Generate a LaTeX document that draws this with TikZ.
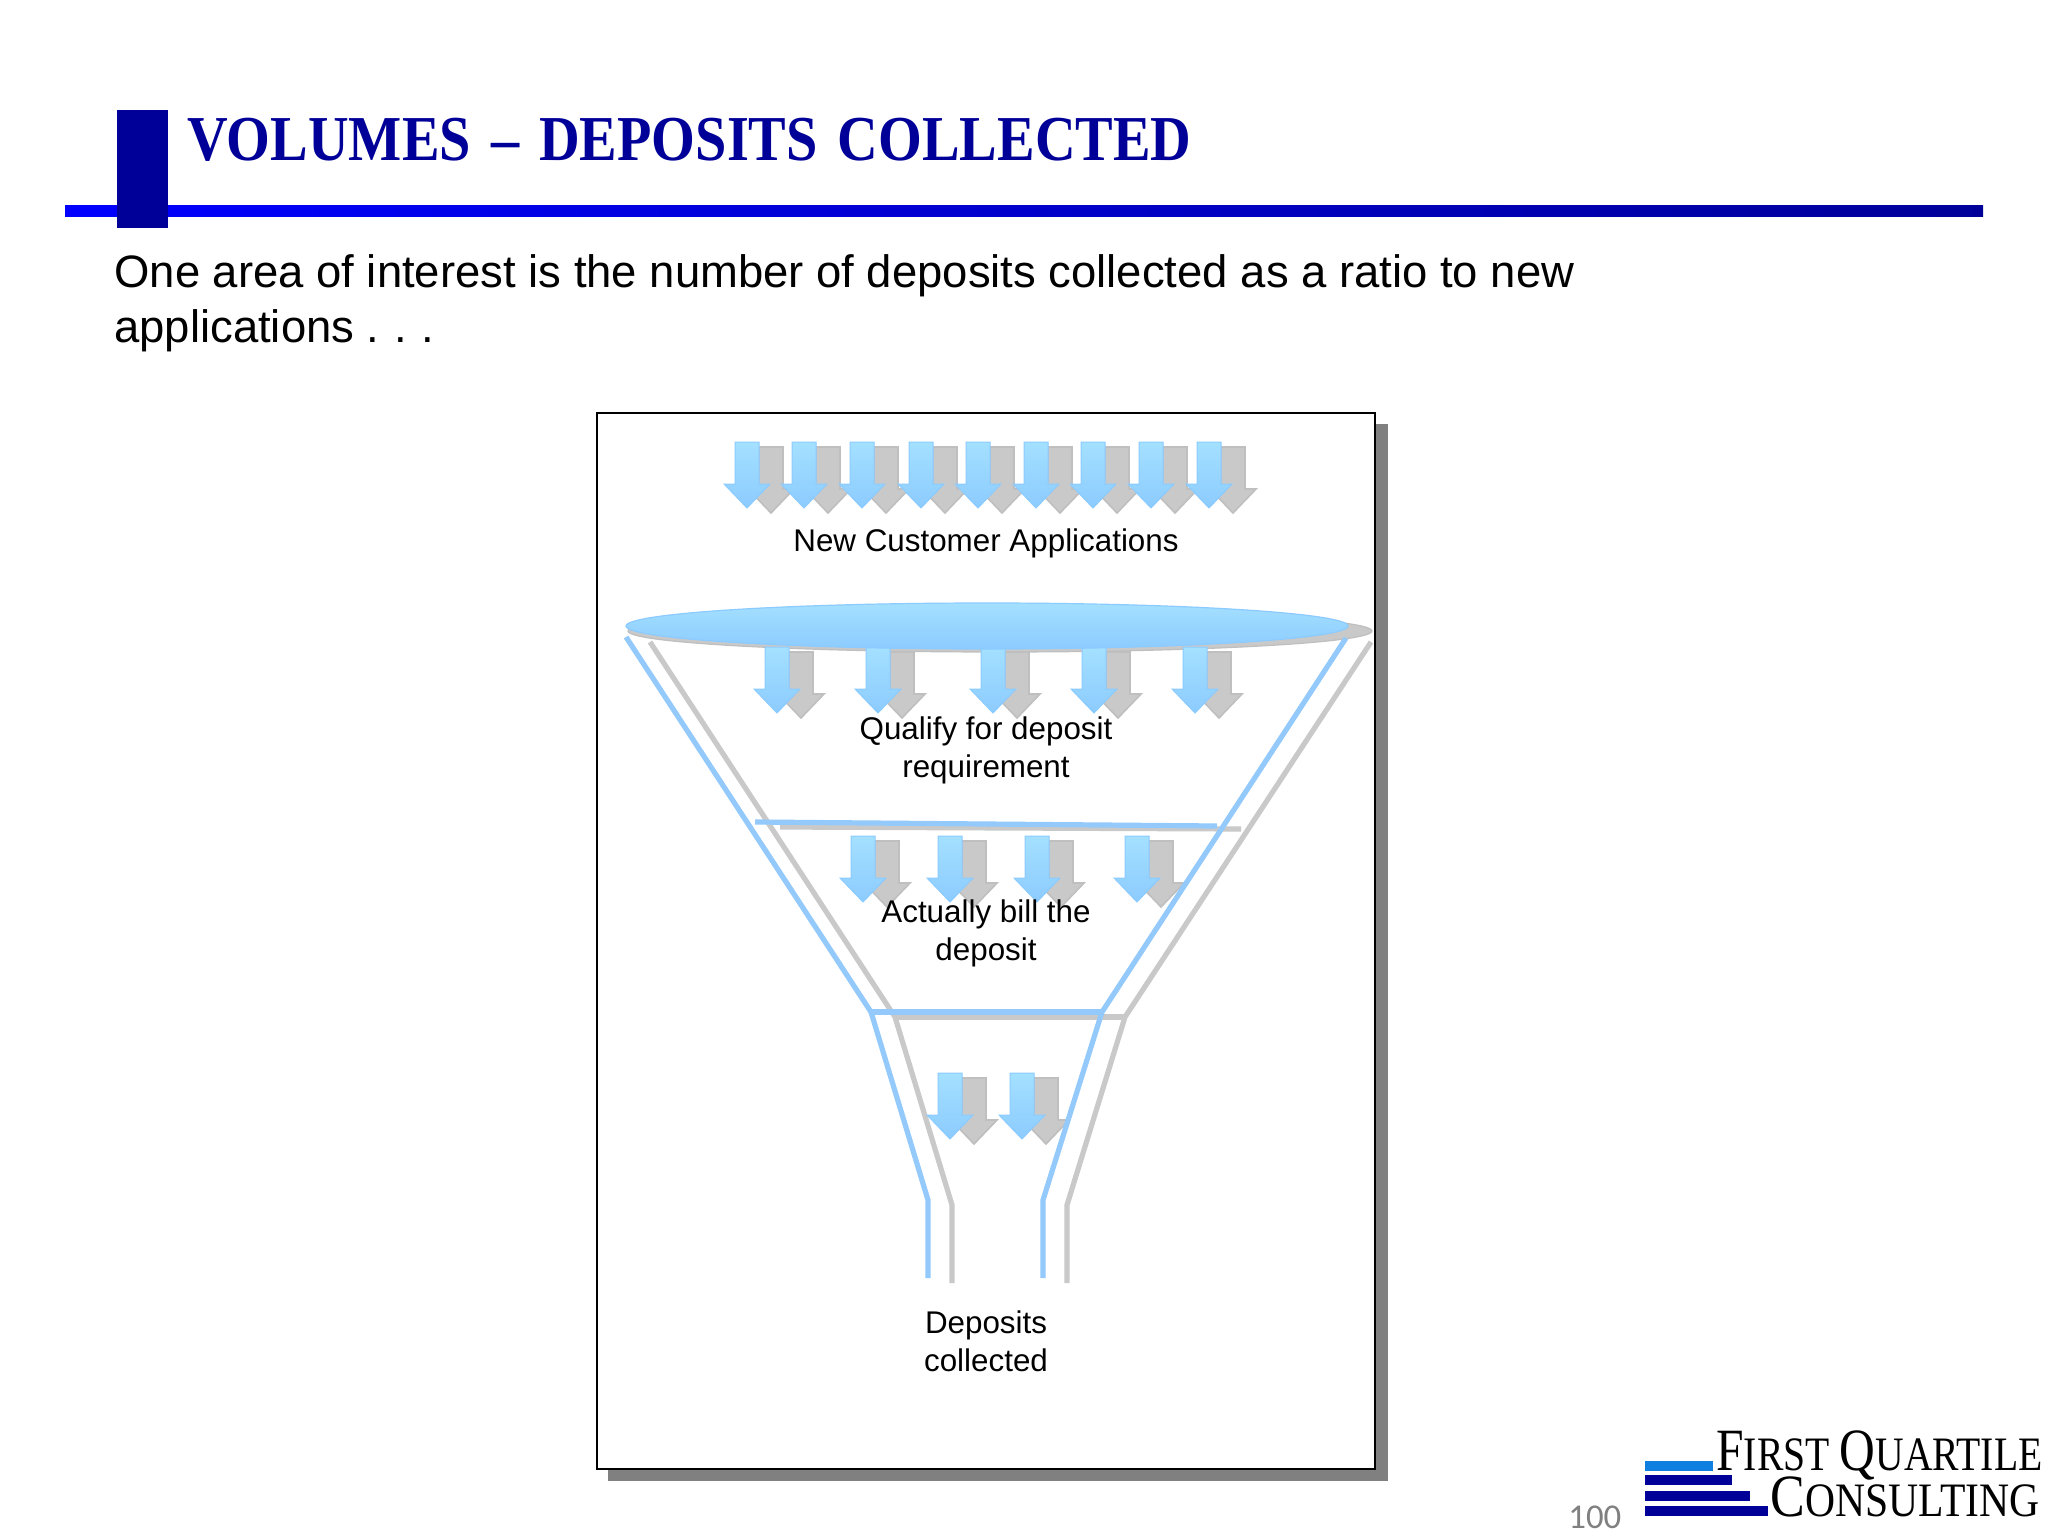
\documentclass[tikz,border=0pt]{standalone}
\usepackage{graphicx}
\usepackage{fontspec}
\setmainfont{Liberation Sans}
\newfontfamily\serifface{Liberation Serif}
\newfontfamily\calface{Carlito}
\usetikzlibrary{shapes.geometric}
\definecolor{navy}{HTML}{000099}
\definecolor{fblue}{HTML}{93C9FB}
\definecolor{fgray}{HTML}{C9C9C9}
\definecolor{atop}{HTML}{A4E0FF}
\definecolor{abot}{HTML}{8CCBFF}
\definecolor{logoblue}{HTML}{0F80E0}
\newcommand{\dnarrow}[3]{\path[#3] (#1-12,#2) -- (#1+12,#2) -- (#1+12,#2+42) -- (#1+23,#2+42) -- (#1,#2+66) -- (#1-23,#2+42) -- (#1-12,#2+42) -- cycle;}
\newcommand{\allarrows}[3]{%
 \foreach \ax in {747,804,862,921,978,1036,1093,1151,1209} {\pgfmathsetmacro{\px}{\ax+#1}\pgfmathsetmacro{\py}{442+#2}\dnarrow{\px}{\py}{#3}}
 \foreach \ax in {777,878,993,1094,1195} {\pgfmathsetmacro{\px}{\ax+#1}\pgfmathsetmacro{\py}{647+#2}\dnarrow{\px}{\py}{#3}}
 \foreach \ax in {863,950,1037,1137} {\pgfmathsetmacro{\px}{\ax+#1}\pgfmathsetmacro{\py}{836+#2}\dnarrow{\px}{\py}{#3}}
 \foreach \ax in {950,1022} {\pgfmathsetmacro{\px}{\ax+#1}\pgfmathsetmacro{\py}{1073+#2}\dnarrow{\px}{\py}{#3}}
}
\tikzset{
 grayarrow/.style={fill=fgray,draw=fgray!95!black,line width=.8pt},
 bluearrow/.style={top color=atop,bottom color=abot,draw=abot,line width=.5pt},
 fline/.style={line width=2.6pt,line join=round},
 label/.style={font=\fontsize{15.68}{19}\selectfont,align=center,text=black,inner sep=0pt,anchor=base},
 logo/.style={font=\serifface,inner sep=0pt,anchor=base west,text=black},
}
\begin{document}
\begin{tikzpicture}[x=0.5pt,y=-0.5pt]
\useasboundingbox (0,0) rectangle (2048,1536);
% title
\shade[left color=blue,right color=navy] (65,205) rectangle (1983,216);
\fill[navy] (117,110) rectangle (168,228);
\node[font=\serifface\bfseries\fontsize{32}{32}\selectfont,text=navy,inner sep=0pt,anchor=base west] (title) at (187,160) {\scalebox{0.88}[1]{VOLUMES\hspace{3.4pt} – \hspace{3.4pt}DEPOSITS \hspace{3.4pt}COLLECTED}};
\node[font=\fontsize{22.72}{27.5}\selectfont,inner sep=0pt,anchor=base west,align=left] (body) at (114,342) {One area of interest is the number of deposits collected as a ratio to new\\applications .\hspace{-1pt} .\hspace{-1pt} .};
% box
\fill[gray] (608,424) rectangle (1388,1481);
\draw[fill=white,line width=1pt] (597,413) rectangle (1375,1469);
% gray layer
\draw[fgray,fline] (650,642) -- (895,1017) -- (952,1205) -- (952,1283);
\draw[fgray,fline] (1371,642) -- (1125,1017) -- (1067,1205) -- (1067,1283);
\draw[fgray,fline] (895,1017) -- (1125,1017);
\draw[fgray,fline] (780,827) -- (1241,829);
\node[ellipse,fill=fgray,draw=fgray!95!black,line width=.6pt,minimum width=372pt,minimum height=21pt,inner sep=0pt] (gell) at (1000,631) {};
\allarrows{24}{5}{grayarrow}
% blue layer
\draw[fblue,fline] (626,637) -- (871,1012) -- (928,1200) -- (928,1278);
\draw[fblue,fline] (1346,638) -- (1102,1012) -- (1043,1200) -- (1043,1278);
\draw[fblue,fline] (871,1012) -- (1102,1012);
\draw[fblue,fline] (755,822) -- (1217,826);
\allarrows{0}{0}{bluearrow}
\node[ellipse,top color=atop,bottom color=abot,draw=abot,line width=.6pt,minimum width=361pt,minimum height=23pt,inner sep=0pt] (bell) at (987,626) {};
% labels
\node[label] (l1) at (986,551) {New Customer Applications};
\node[label] (l2) at (986,777) {Qualify for deposit\\requirement};
\node[label] (l3) at (986,960) {Actually bill the\\deposit};
\node[label] (l4) at (986,1371) {Deposits\\collected};
% footer
\node[font=\calface\fontsize{17.4}{17.4}\selectfont,text=gray,inner sep=0pt,anchor=base west] (pg) at (1568,1528) {100};
\fill[logoblue] (1645,1461) rectangle (1713,1471);
\fill[navy] (1645,1475) rectangle (1732,1485);
\fill[navy] (1645,1491) rectangle (1750,1501);
\fill[navy] (1645,1506) rectangle (1768,1516);
\node[logo] (lg1) at (1716,1470) {\scalebox{0.825}[1]{\fontsize{30}{30}\selectfont F\fontsize{24}{24}\selectfont IRST \fontsize{30}{30}\selectfont Q\fontsize{24}{24}\selectfont UARTILE}};
\node[logo] (lg2) at (1770,1516) {\scalebox{0.867}[1]{\fontsize{30}{30}\selectfont C\fontsize{24}{24}\selectfont ONSULTING}};
\end{tikzpicture}
\end{document}
